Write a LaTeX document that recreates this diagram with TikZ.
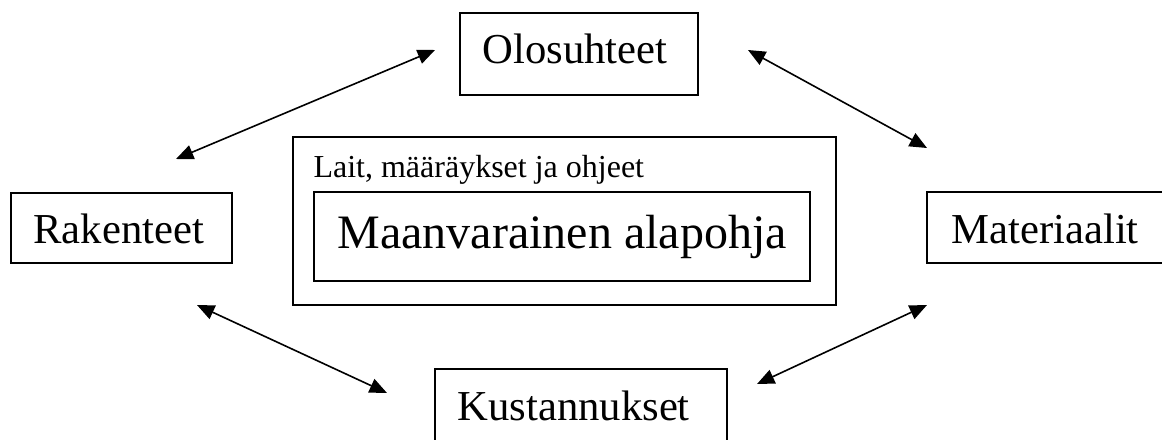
\documentclass[tikz,border=0pt]{standalone}
\usepackage{fontspec}
\setmainfont{Liberation Serif}
\usetikzlibrary{arrows.meta}
\tikzset{
  box/.style={draw=black,line width=0.8pt},
  lbl/.style={anchor=base west,inner sep=0pt,font=\fontsize{16}{19}\selectfont},
  link/.style={line width=0.6pt,{Triangle[length=6.5pt,width=5.5pt]}-{Triangle[length=6.5pt,width=5.5pt]}}
}
\begin{document}
\begin{tikzpicture}[x=0.375pt,y=-0.375pt]
\useasboundingbox (0,0) rectangle (1162,439);
\clip (0,0) rectangle (1162,439);
% boxes
\draw[box] (460,13) rectangle (698,95);
\draw[box] (11,193) rectangle (232,263);
\draw[box] (927,192) rectangle (1175,263);
\draw[box] (435,369) rectangle (727,460);
\draw[box] (293,137) rectangle (836,305);
\draw[box] (314,192) rectangle (810,281);
% texts
\node[lbl] (olo) at (482,63) {Olosuhteet};
\node[lbl] (rak) at (33,243) {Rakenteet};
\node[lbl] (mat) at (951,243) {Materiaalit};
\node[lbl] (kus) at (457,420) {Kustannukset};
\node[lbl,font=\fontsize{12}{14}\selectfont] (lait) at (313,177) {Lait, määräykset ja ohjeet};
\node[lbl,font=\fontsize{18}{22}\selectfont] (maa) at (337,248) {Maanvarainen alapohja};
% arrow ends
\coordinate (a1) at (176,159);
\coordinate (a2) at (435,50);
\coordinate (b1) at (748,50);
\coordinate (b2) at (927,148);
\coordinate (c1) at (197,305);
\coordinate (c2) at (387,393);
\coordinate (d1) at (757,384);
\coordinate (d2) at (927,305);
\draw[link] (a1) -- (a2);
\draw[link] (b1) -- (b2);
\draw[link] (c1) -- (c2);
\draw[link] (d1) -- (d2);
\end{tikzpicture}
\end{document}
